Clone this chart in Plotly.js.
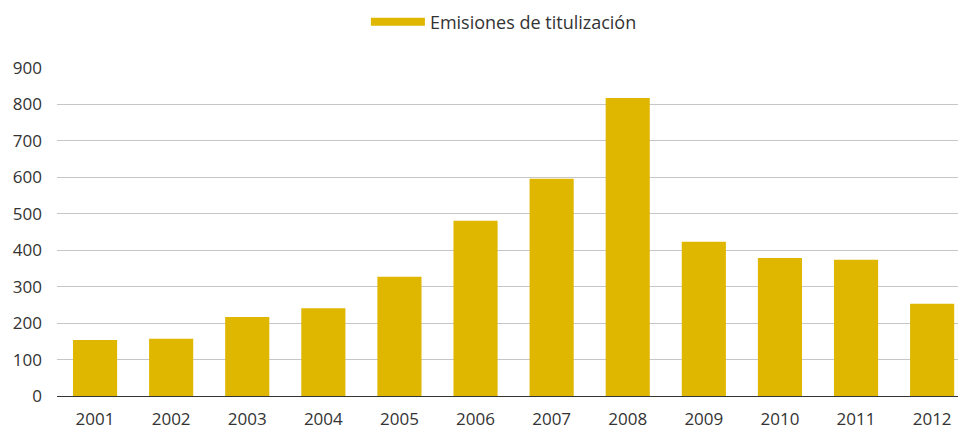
<!DOCTYPE html>
<html>
<head>
<meta charset="utf-8">
<script src="https://cdn.plot.ly/plotly-3.0.1.min.js"></script>
<style>
html, body { margin: 0; padding: 0; background: #fff; }
#chart { width: 958px; height: 430px; }
</style>
</head>
<body>
<div id="chart"></div>
<script>
const years = ['2001','2002','2003','2004','2005','2006','2007','2008','2009','2010','2011','2012'];
const emisiones = [154, 157, 217, 241, 327, 481, 596, 818, 423, 379, 374, 253];
const seriesName = 'Emisiones de titulización';
const yTicks = [0, 100, 200, 300, 400, 500, 600, 700, 800, 900];

const barColor = '#dfb700';
const textColor = '#333333';
const font = 'Open Sans, Noto Sans, sans-serif';

const traces = [
  {
    type: 'bar',
    x: years,
    y: emisiones,
    name: seriesName,
    marker: { color: barColor },
    showlegend: false,
    hoverinfo: 'x+y'
  },
  {
    type: 'scatter',
    mode: 'lines',
    x: [null],
    y: [null],
    name: seriesName,
    line: { color: barColor, width: 8 },
    showlegend: true,
    hoverinfo: 'skip'
  }
];

const layout = {
  width: 958,
  height: 430,
  margin: { l: 57, r: 0, t: 68, b: 34 },
  paper_bgcolor: '#ffffff',
  plot_bgcolor: '#ffffff',
  font: { family: font, size: 17, color: textColor },
  bargap: 0.42,
  showlegend: true,
  legend: {
    orientation: 'h',
    x: 0.526,
    xanchor: 'center',
    y: 0.949,
    yanchor: 'middle',
    yref: 'container',
    xref: 'container',
    itemwidth: 54,
    font: { family: font, size: 18, color: textColor },
    bgcolor: 'rgba(0,0,0,0)'
  },
  xaxis: {
    type: 'category',
    range: [-0.5, 11.34],
    showgrid: false,
    showline: true,
    linecolor: '#333333',
    linewidth: 1,
    ticks: '',
    ticklabelstandoff: 8,
    tickfont: { family: font, size: 17, color: textColor },
    fixedrange: true,
    zeroline: false
  },
  yaxis: {
    range: [0, 900],
    tickvals: yTicks,
    ticktext: yTicks.map(String),
    showgrid: true,
    gridcolor: '#c6c6c6',
    gridwidth: 1,
    zeroline: false,
    showline: false,
    ticks: '',
    ticklabelstandoff: 14,
    tickfont: { family: font, size: 17, color: textColor },
    fixedrange: true
  }
};

Plotly.newPlot('chart', traces, layout, { displayModeBar: false, staticPlot: true });
</script>
</body>
</html>
